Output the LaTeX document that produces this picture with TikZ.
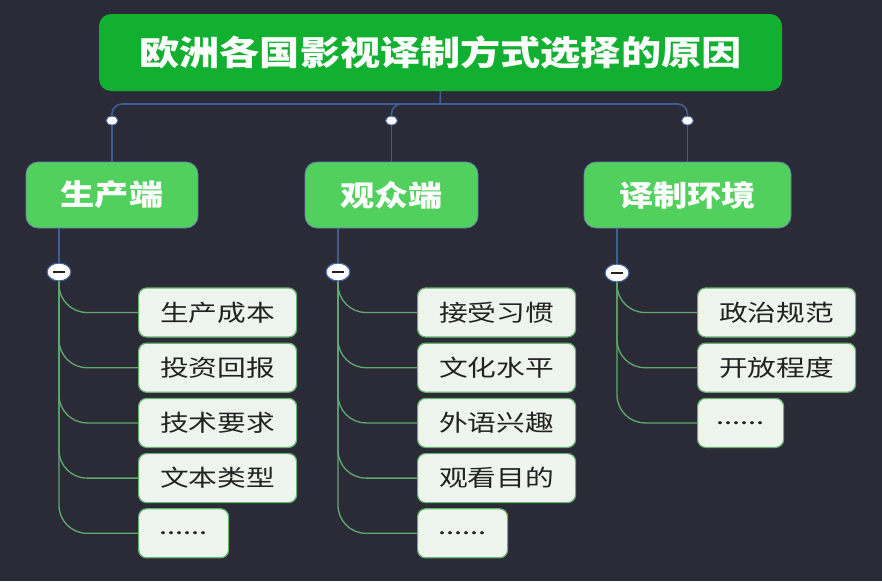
\documentclass[tikz,border=0pt]{standalone}
\usepackage{fontspec}
\usepackage{tikz}
\usetikzlibrary{shapes.geometric}
\newfontfamily\cjkhead[FakeStretch=1.18]{Noto Sans CJK SC}
\newfontfamily\cjkleaf[FakeStretch=1.25]{Noto Sans CJK SC}
\definecolor{bgdark}{RGB}{43,43,55}
\definecolor{rootgreen}{RGB}{18,176,48}
\definecolor{catgreen}{RGB}{82,208,94}
\definecolor{leaffill}{RGB}{237,245,238}
\definecolor{leafline}{RGB}{100,180,110}
\definecolor{linkblue}{RGB}{60,95,150}
\definecolor{branchgreen}{RGB}{95,170,110}
\definecolor{inkdark}{RGB}{34,34,34}

\tikzset{
  rootbox/.style={fill=rootgreen, rounded corners=12pt, minimum width=683pt,
    minimum height=77pt, inner sep=0pt, text=white,
    font=\cjkhead\bfseries\fontsize{34}{34}\selectfont},
  catbox/.style={fill=catgreen, draw=linkblue!80, line width=0.8pt,
    rounded corners=12pt, minimum height=66pt, inner sep=0pt, text=white,
    font=\cjkhead\bfseries\fontsize{29}{29}\selectfont},
  leafbox/.style={fill=leaffill, draw=leafline, line width=1.2pt,
    rounded corners=8pt, minimum width=158pt, minimum height=49pt,
    inner sep=0pt, anchor=west, text=inkdark,
    font=\cjkleaf\fontsize{23}{23}\selectfont},
  knob/.style={ellipse, fill=white, draw=linkblue, line width=1pt,
    minimum width=12pt, minimum height=9pt, inner sep=0pt},
  fold/.style={ellipse, fill=white, draw=linkblue, line width=1.2pt,
    minimum width=24pt, minimum height=18pt, inner sep=0pt,
    path picture={\draw[line width=1.8pt, inkdark]
      ([xshift=-6pt]path picture bounding box.center) --
      ([xshift=6pt]path picture bounding box.center);}},
  link/.style={draw=linkblue, line width=1.6pt},
  branch/.style={draw=branchgreen, line width=1.3pt, rounded corners=28pt}
}

\begin{document}
\begin{tikzpicture}[x=1pt, y=-1pt]
  % Background
  \fill[bgdark] (0,0) rectangle (882,581);

  % Root and categories
  \node[rootbox] (root) at (440.5,52.5) {欧洲各国影视译制方式选择的原因};
  \node[catbox, minimum width=172pt] (prod) at (112,195) {生产端};
  \node[catbox, minimum width=173pt] (aud) at (391.5,195) {观众端};
  \node[catbox, minimum width=207pt] (env) at (687.5,195) {译制环境};

  % Draw connectors from root
  \coordinate (hub) at (440,104);
  \draw[link] (root.south) -- (hub);
  \foreach \c/\k in {prod/kp,aud/ka,env/ke}{
    \node[knob] (\k) at ([yshift=41pt]\c.north) {};
    \draw[link, rounded corners=10pt] (hub) -| (\k.north);
    \draw[link] (\k.south) -- (\c.north);
  }

  % Fold buttons
  \node[fold] (fp) at (59,272) {};
  \node[fold] (fa) at (338,272) {};
  \node[fold] (fe) at (617,273) {};
  \draw[link] (prod.south -| fp) -- (fp.north);
  \draw[link] (aud.south -| fa) -- (fa.north);
  \draw[link] (env.south -| fe) -- (fe.north);

  % Leaves
  \foreach \t [count=\i] in {生产成本,投资回报,技术要求,文本类型}
    \node[leafbox] (p\i) at (138,312.5+55.2*\i-55.2) {\t};
  \node[leafbox, minimum width=90pt] (p5) at (138,533.3) {......};
  \foreach \t [count=\i] in {接受习惯,文化水平,外语兴趣,观看目的}
    \node[leafbox] (a\i) at (417,312.5+55.2*\i-55.2) {\t};
  \node[leafbox, minimum width=90pt] (a5) at (417,533.3) {......};
  \foreach \t [count=\i] in {政治规范,开放程度}
    \node[leafbox] (e\i) at (697,312.5+55.2*\i-55.2) {\t};
  \node[leafbox, minimum width=86pt] (e3) at (697,422.9) {......};

  % Draw branches
  \foreach \i in {1,...,5}{
    \draw[branch] (fp.south) |- (p\i.west);
    \draw[branch] (fa.south) |- (a\i.west);
  }
  \foreach \i in {1,2,3}
    \draw[branch] (fe.south) |- (e\i.west);
\end{tikzpicture}
\end{document}
